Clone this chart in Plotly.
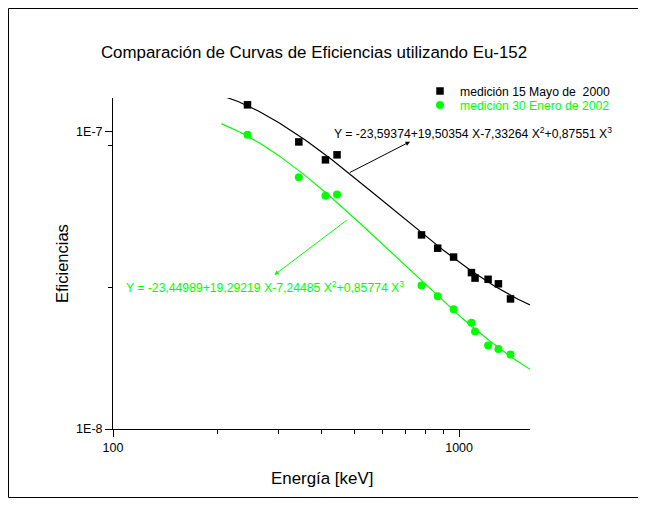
import numpy as np
import plotly.graph_objects as go

# ---- data ----
energia_keV = [244.7, 344.3, 411.1, 444.0, 778.9, 867.4, 964.1, 1085.8, 1112.1, 1212.9, 1299.1, 1408.0]
ef_2000 = [1.233e-7, 9.25e-8, 8.05e-8, 8.37e-8, 4.50e-8, 4.06e-8, 3.79e-8, 3.36e-8, 3.22e-8, 3.19e-8, 3.08e-8, 2.74e-8]
ef_2002 = [9.77e-8, 7.04e-8, 6.10e-8, 6.15e-8, 3.04e-8, 2.80e-8, 2.53e-8, 2.28e-8, 2.13e-8, 1.91e-8, 1.86e-8, 1.78e-8]

# fit coefficients shown on the chart: log10(eff) = a0 + a1 X + a2 X^2 + a3 X^3, X = log10(E)
coef_2000 = [-23.59374, 19.50354, -7.33264, 0.87551]
coef_2002 = [-23.44989, 19.29219, -7.24485, 0.85774]
fit_range_keV = [206.0, 1603.0]

label_2000 = "medición 15 Mayo de  2000"
label_2002 = "medición 30 Enero de 2002"
eq_2000 = "Y = -23,59374+19,50354 X-7,33264 X<sup>2</sup>+0,87551 X<sup>3</sup>"
eq_2002 = "Y = -23,44989+19,29219 X-7,24485 X<sup>2</sup>+0,85774 X<sup>3</sup>"

GREEN = "#00ff00"
FONT = "Liberation Sans, Arial, sans-serif"

def fit_curve(coef):
    X = np.linspace(np.log10(fit_range_keV[0]), np.log10(fit_range_keV[1]), 200)
    Y = coef[0] + coef[1] * X + coef[2] * X ** 2 + coef[3] * X ** 3
    return 10 ** X, 10 ** Y

fig = go.Figure()
xe, ye = fit_curve(coef_2000)
fig.add_trace(go.Scatter(x=xe, y=ye, mode="lines", line=dict(color="black", width=1.2), showlegend=False, hoverinfo="skip"))
xe, ye = fit_curve(coef_2002)
fig.add_trace(go.Scatter(x=xe, y=ye, mode="lines", line=dict(color=GREEN, width=1.2), showlegend=False, hoverinfo="skip"))

fig.add_trace(go.Scatter(x=energia_keV, y=ef_2000, mode="markers", name=label_2000, legend="legend",
                         marker=dict(symbol="square", size=7.5, color="black")))
fig.add_trace(go.Scatter(x=energia_keV, y=ef_2002, mode="markers", legend="legend2",
                         name='<span style="color:%s">%s</span>' % (GREEN, label_2002),
                         marker=dict(symbol="circle", size=8, color=GREEN)))

# page is offset by the 8px body margin in the screenshot
OFF = 8
W, H = 646, 512
L, R, T, B = 113 - OFF, W - (530 - OFF), 98 - OFF, H - (429 - OFF)
pw, ph = W - L - R, H - T - B

def px_x(p):
    return (p - OFF - L) / pw

def px_y(p):
    return (H - B - (p - OFF)) / ph

leg_common = dict(xanchor="left", yanchor="middle", bgcolor="rgba(0,0,0,0)",
                  font=dict(size=12.2, family=FONT), itemwidth=30)

fig.update_layout(
    width=W, height=H,
    margin=dict(l=L, r=R, t=T, b=B),
    paper_bgcolor="white", plot_bgcolor="white",
    font=dict(family=FONT, size=12, color="black"),
    title=dict(text="Comparación de Curvas de Eficiencias utilizando Eu-152",
               x=(314 - OFF) / W, xanchor="center", xref="container",
               y=1 - (52 - OFF) / H, yanchor="middle", yref="container",
               font=dict(size=16.9, family=FONT, color="black")),
    legend=dict(x=px_x(420), y=px_y(91), **leg_common),
    legend2=dict(x=px_x(420), y=px_y(105), **leg_common),
    showlegend=True,
)

fig.update_xaxes(type="log", range=[2, np.log10(1603)],
                 showline=True, linecolor="black", linewidth=1, mirror=False,
                 showgrid=False, zeroline=False,
                 ticks="outside", ticklen=7, tickcolor="black", tickwidth=1,
                 tickmode="array", tickvals=[100, 1000], ticktext=["100", "1000"],
                 tickfont=dict(size=12.5),
                 minor=dict(tickmode="array", tickvals=[200, 300, 400, 500, 600, 700, 800, 900],
                            ticks="outside", ticklen=4, tickcolor="black", showgrid=False))
fig.update_yaxes(type="log", range=[-8, np.log10(1.30e-7)],
                 showline=True, linecolor="black", linewidth=1, mirror=False,
                 showgrid=False, zeroline=False,
                 ticks="outside", ticklen=7, tickcolor="black", tickwidth=1,
                 tickmode="array", tickvals=[1e-8, 1e-7], ticktext=["1E-8", "1E-7"],
                 tickfont=dict(size=12.5),
                 minor=dict(tickmode="array", tickvals=[3e-8, 9e-8],
                            ticks="outside", ticklen=4, tickcolor="black", showgrid=False))

# axis titles
fig.add_annotation(text="Energía [keV]", xref="paper", yref="paper", x=0.5, y=px_y(478),
                   xanchor="center", yanchor="middle", showarrow=False,
                   font=dict(size=16.9, family=FONT, color="black"))
fig.add_annotation(text="Eficiencias", xref="paper", yref="paper", x=px_x(62), y=px_y(264),
                   xanchor="center", yanchor="middle", showarrow=False, textangle=-90,
                   font=dict(size=16.5, family=FONT, color="black"))

# equations
fig.add_annotation(text=eq_2000, xref="paper", yref="paper", x=px_x(332), y=px_y(133),
                   xanchor="left", yanchor="middle", showarrow=False,
                   font=dict(size=12.2, family=FONT, color="black"))
fig.add_annotation(text=eq_2002, xref="paper", yref="paper", x=px_x(124), y=px_y(287),
                   xanchor="left", yanchor="middle", showarrow=False,
                   font=dict(size=12.2, family=FONT, color=GREEN))

# arrows
fig.add_annotation(text="", xref="paper", yref="paper", x=px_x(410), y=px_y(141.7),
                   axref="pixel", ayref="pixel", ax=-61.7, ay=31.6,
                   showarrow=True, arrowhead=2, arrowsize=0.9, arrowwidth=1, arrowcolor="black")
fig.add_annotation(text="", xref="paper", yref="paper", x=px_x(274.3), y=px_y(275),
                   axref="pixel", ayref="pixel", ax=74, ay=-56,
                   showarrow=True, arrowhead=2, arrowsize=0.9, arrowwidth=1, arrowcolor=GREEN)

# outer frame
fig.add_shape(type="rect", xref="paper", yref="paper",
              x0=px_x(8.5), x1=px_x(638.5), y0=px_y(497.5), y1=px_y(8.5),
              line=dict(color="black", width=1), fillcolor="rgba(0,0,0,0)", layer="below")

fig.write_html("out.html")
